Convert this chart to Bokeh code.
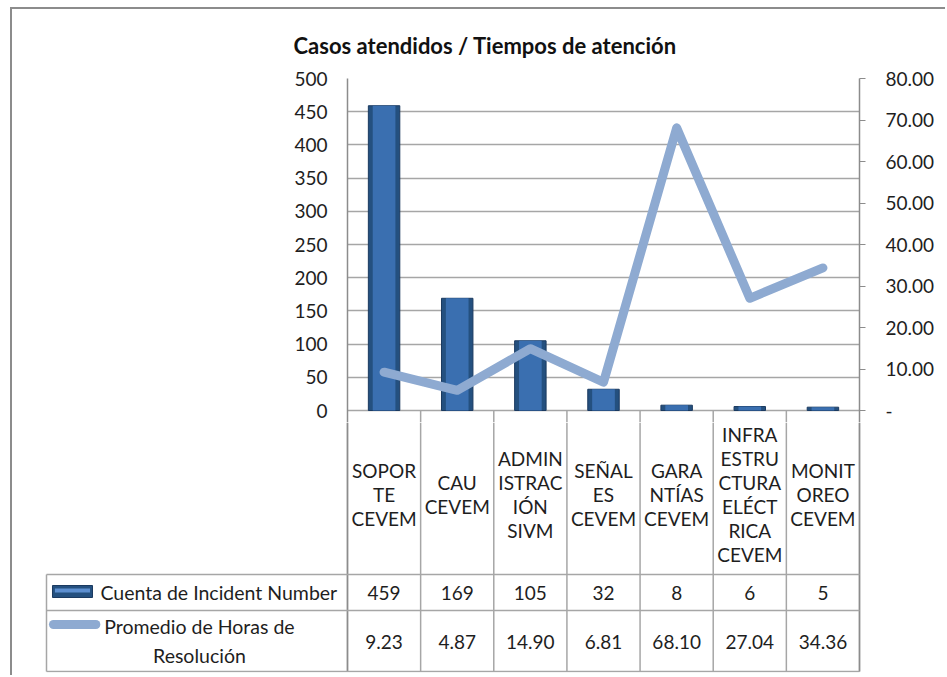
from bokeh.plotting import figure
from bokeh.models import Range1d, LinearAxis, FixedTicker, CustomJSTickFormatter
from bokeh.core.properties import value
from bokeh.embed import file_html
from bokeh.resources import INLINE

# ---------------- data ----------------
title_text = "Casos atendidos / Tiempos de atención"
categories = ["SOPORTE CEVEM", "CAU CEVEM", "ADMINISTRACIÓN SIVM", "SEÑALES CEVEM",
              "GARANTÍAS CEVEM", "INFRAESTRUCTURA ELÉCTRICA CEVEM", "MONITOREO CEVEM"]
category_labels = ["SOPOR\nTE\nCEVEM", "CAU\nCEVEM", "ADMIN\nISTRAC\nIÓN\nSIVM", "SEÑAL\nES\nCEVEM",
                   "GARA\nNTÍAS\nCEVEM", "INFRA\nESTRU\nCTURA\nELÉCT\nRICA\nCEVEM", "MONIT\nOREO\nCEVEM"]
incidents = [459, 169, 105, 32, 8, 6, 5]
hours = [9.23, 4.87, 14.90, 6.81, 68.10, 27.04, 34.36]
incident_ticks = [0, 50, 100, 150, 200, 250, 300, 350, 400, 450, 500]
hour_ticks = [0, 10, 20, 30, 40, 50, 60, 70, 80]
series_names = ["Cuenta de Incident Number", "Promedio de Horas de\nResolución"]

# ---------------- style / layout ----------------
FONT = "Lato"
TXT = "#1e1e1e"
GRID = "#a6a6a6"
AXIS = "#8c8c8c"
BAR_DARK = "#24507f"
BAR_MID = "#3a6fb0"
LINE_C = "#8eaad1"
BORDER = "2px solid #8c8c8c"

n = len(categories)
centers = [i + 0.5 for i in range(n)]
bounds = list(range(n + 1))

left_max = incident_ticks[-1]
right_max = hour_ticks[-1]
plot_px = 332      # height of the 0..max area in pixels
pad_px = 14        # extra strip below zero (top of the table)
y_start = -left_max * pad_px / plot_px
y2_start = -right_max * pad_px / plot_px

p = figure(width=935, height=69 + plot_px + pad_px, x_range=Range1d(0, n),
           y_range=Range1d(y_start, left_max),
           output_backend="svg", toolbar_location=None,
           min_border_left=335, min_border_right=88, min_border_top=69, min_border_bottom=0,
           x_axis_location=None)
p.styles = {"margin-left": "10px", "margin-top": "7px", "border-left": BORDER, "border-top": BORDER}
p.title.text = title_text
p.title.align = "left"
p.title.offset = -54
p.title.standoff = 40
p.title.text_font = FONT
p.title.text_font_size = "22px"
p.title.text_font_style = "bold"
p.title.text_color = "#111111"
p.outline_line_color = None
p.extra_y_ranges = {"hours": Range1d(y2_start, right_max)}

ya = p.yaxis[0]
ya.ticker = FixedTicker(ticks=incident_ticks)
ya.major_tick_out = 0
ya.major_tick_in = 0
ya.minor_tick_line_color = None
ya.axis_line_color = AXIS
ya.axis_line_width = 1.5
ya.major_label_standoff = 20
ya.major_label_text_font = FONT
ya.major_label_text_font_size = "19px"
ya.major_label_text_color = TXT

ra = LinearAxis(y_range_name="hours", ticker=FixedTicker(ticks=hour_ticks),
                formatter=CustomJSTickFormatter(code="return tick == 0 ? '-' : tick.toFixed(2);"))
ra.major_tick_out = 6
ra.major_tick_in = 0
ra.major_tick_line_color = AXIS
ra.minor_tick_line_color = None
ra.axis_line_color = AXIS
ra.axis_line_width = 1.5
ra.major_label_standoff = 20
ra.major_label_text_font = FONT
ra.major_label_text_font_size = "19px"
ra.major_label_text_color = TXT
p.add_layout(ra, "right")

p.xgrid.visible = False
p.ygrid.ticker = FixedTicker(ticks=incident_ticks)
p.ygrid.grid_line_color = GRID
p.ygrid.grid_line_width = 1.5

# table stubs between categories below zero
p.segment(x0=bounds[1:-1], y0=[0] * (n - 1), x1=bounds[1:-1], y1=[y_start] * (n - 1),
          line_color=GRID, line_width=1.5)

# bars (two layers for a bevelled look)
p.vbar(x=centers, top=incidents, bottom=0, width=0.43, fill_color=BAR_DARK,
       line_color="#1b3a60", line_width=1)
p.vbar(x=centers, top=incidents, bottom=0, width=0.31, fill_color=BAR_MID, line_color=None)

# line on secondary axis
p.line(x=centers, y=hours, y_range_name="hours", line_color=LINE_C, line_width=9,
       line_join="round", line_cap="round")

# ---------------- data table below ----------------
u = 73.14
legend_w = 4.115
q = figure(width=935, height=253,
           x_range=Range1d(-legend_w - 2 / u, n + 2 / u), y_range=Range1d(250, 0),
           output_backend="svg", toolbar_location=None,
           min_border_left=32, min_border_right=86, min_border_top=0, min_border_bottom=3,
           x_axis_location=None, y_axis_location=None)
q.styles = {"margin-left": "10px", "border-left": BORDER}
q.title.visible = False
q.outline_line_color = None
q.xgrid.visible = False
q.ygrid.visible = False

hdr_b, r1_b, r2_b = 152, 188, 249
# vertical lines of category columns
q.segment(x0=bounds, y0=[0] * (n + 1), x1=bounds, y1=[r2_b] * (n + 1),
          line_color=GRID, line_width=1.5)
q.segment(x0=[0, n], y0=[0, 0], x1=[0, n], y1=[r2_b, r2_b], line_color=AXIS, line_width=1.5)
# legend column left edge
q.segment(x0=[-legend_w], y0=[hdr_b], x1=[-legend_w], y1=[r2_b], line_color=GRID, line_width=1.5)
# horizontal lines
q.segment(x0=[-legend_w] * 3, y0=[hdr_b, r1_b, r2_b], x1=[n] * 3, y1=[hdr_b, r1_b, r2_b],
          line_color=GRID, line_width=1.5)

q.text(x=centers, y=[72] * n, text=category_labels, text_align="center", text_baseline="middle",
       text_line_height=1.04, text_font=value(FONT), text_font_size="19px", text_color=TXT)
q.text(x=centers, y=[(hdr_b + r1_b) / 2] * n, text=[str(v) for v in incidents],
       text_align="center", text_baseline="middle", text_font=value(FONT),
       text_font_size="19px", text_color=TXT)
q.text(x=centers, y=[(r1_b + r2_b) / 2 + 1] * n, text=[f"{v:.2f}" for v in hours],
       text_align="center", text_baseline="middle", text_font=value(FONT),
       text_font_size="19px", text_color=TXT)

# legend keys
q.quad(left=[-4.033], right=[-3.486], top=[163], bottom=[175], fill_color=BAR_DARK,
       line_color="#1b3a60", line_width=1)
q.quad(left=[-4.00], right=[-3.52], top=[166], bottom=[170], fill_color="#5d8fd0", line_color=None)
q.line(x=[-4.02, -3.44], y=[202, 202], line_color=LINE_C, line_width=9, line_cap="round")

q.text(x=[-3.377], y=[(hdr_b + r1_b) / 2], text=[series_names[0]], text_align="left",
       text_baseline="middle", text_font=value(FONT), text_font_size="19.5px", text_color=TXT)
q.text(x=[-2.024], y=[(r1_b + r2_b) / 2], text=[series_names[1]], text_align="center",
       text_baseline="middle", text_line_height=1.28, text_font=value(FONT),
       text_font_size="19.5px", text_color=TXT)

open("out.html", "w").write(file_html([p, q], INLINE))
